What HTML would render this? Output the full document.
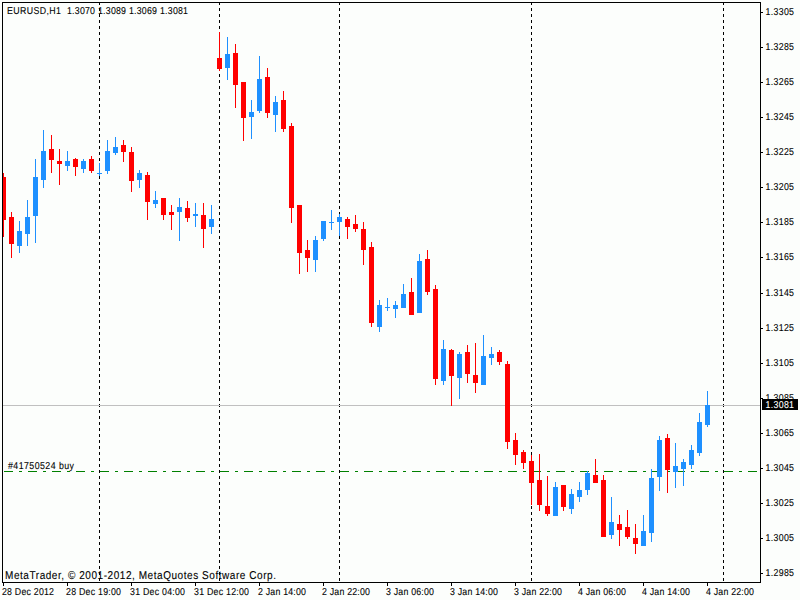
<!DOCTYPE html>
<html><head><meta charset="utf-8"><style>
html,body{margin:0;padding:0;background:#fcfefc;width:800px;height:600px;overflow:hidden}
svg{display:block}
</style></head><body>
<svg width="800" height="600" viewBox="0 0 800 600" shape-rendering="crispEdges" text-rendering="geometricPrecision">
<rect x="99" y="3" width="1" height="2" fill="#000000"/>
<rect x="99" y="8" width="1" height="3" fill="#000000"/>
<rect x="99" y="14" width="1" height="3" fill="#000000"/>
<rect x="99" y="20" width="1" height="3" fill="#000000"/>
<rect x="99" y="26" width="1" height="3" fill="#000000"/>
<rect x="99" y="32" width="1" height="3" fill="#000000"/>
<rect x="99" y="38" width="1" height="3" fill="#000000"/>
<rect x="99" y="44" width="1" height="3" fill="#000000"/>
<rect x="99" y="50" width="1" height="3" fill="#000000"/>
<rect x="99" y="56" width="1" height="3" fill="#000000"/>
<rect x="99" y="62" width="1" height="3" fill="#000000"/>
<rect x="99" y="68" width="1" height="3" fill="#000000"/>
<rect x="99" y="74" width="1" height="3" fill="#000000"/>
<rect x="99" y="80" width="1" height="3" fill="#000000"/>
<rect x="99" y="86" width="1" height="3" fill="#000000"/>
<rect x="99" y="92" width="1" height="3" fill="#000000"/>
<rect x="99" y="98" width="1" height="3" fill="#000000"/>
<rect x="99" y="104" width="1" height="3" fill="#000000"/>
<rect x="99" y="110" width="1" height="3" fill="#000000"/>
<rect x="99" y="116" width="1" height="3" fill="#000000"/>
<rect x="99" y="122" width="1" height="3" fill="#000000"/>
<rect x="99" y="128" width="1" height="3" fill="#000000"/>
<rect x="99" y="134" width="1" height="3" fill="#000000"/>
<rect x="99" y="140" width="1" height="3" fill="#000000"/>
<rect x="99" y="146" width="1" height="3" fill="#000000"/>
<rect x="99" y="152" width="1" height="3" fill="#000000"/>
<rect x="99" y="158" width="1" height="3" fill="#000000"/>
<rect x="99" y="164" width="1" height="3" fill="#000000"/>
<rect x="99" y="170" width="1" height="3" fill="#000000"/>
<rect x="99" y="176" width="1" height="3" fill="#000000"/>
<rect x="99" y="182" width="1" height="3" fill="#000000"/>
<rect x="99" y="188" width="1" height="3" fill="#000000"/>
<rect x="99" y="194" width="1" height="3" fill="#000000"/>
<rect x="99" y="200" width="1" height="3" fill="#000000"/>
<rect x="99" y="206" width="1" height="3" fill="#000000"/>
<rect x="99" y="212" width="1" height="3" fill="#000000"/>
<rect x="99" y="218" width="1" height="3" fill="#000000"/>
<rect x="99" y="224" width="1" height="3" fill="#000000"/>
<rect x="99" y="230" width="1" height="3" fill="#000000"/>
<rect x="99" y="236" width="1" height="3" fill="#000000"/>
<rect x="99" y="242" width="1" height="3" fill="#000000"/>
<rect x="99" y="248" width="1" height="3" fill="#000000"/>
<rect x="99" y="254" width="1" height="3" fill="#000000"/>
<rect x="99" y="260" width="1" height="3" fill="#000000"/>
<rect x="99" y="266" width="1" height="3" fill="#000000"/>
<rect x="99" y="272" width="1" height="3" fill="#000000"/>
<rect x="99" y="278" width="1" height="3" fill="#000000"/>
<rect x="99" y="284" width="1" height="3" fill="#000000"/>
<rect x="99" y="290" width="1" height="3" fill="#000000"/>
<rect x="99" y="296" width="1" height="3" fill="#000000"/>
<rect x="99" y="302" width="1" height="3" fill="#000000"/>
<rect x="99" y="308" width="1" height="3" fill="#000000"/>
<rect x="99" y="314" width="1" height="3" fill="#000000"/>
<rect x="99" y="320" width="1" height="3" fill="#000000"/>
<rect x="99" y="326" width="1" height="3" fill="#000000"/>
<rect x="99" y="332" width="1" height="3" fill="#000000"/>
<rect x="99" y="338" width="1" height="3" fill="#000000"/>
<rect x="99" y="344" width="1" height="3" fill="#000000"/>
<rect x="99" y="350" width="1" height="3" fill="#000000"/>
<rect x="99" y="356" width="1" height="3" fill="#000000"/>
<rect x="99" y="362" width="1" height="3" fill="#000000"/>
<rect x="99" y="368" width="1" height="3" fill="#000000"/>
<rect x="99" y="374" width="1" height="3" fill="#000000"/>
<rect x="99" y="380" width="1" height="3" fill="#000000"/>
<rect x="99" y="386" width="1" height="3" fill="#000000"/>
<rect x="99" y="392" width="1" height="3" fill="#000000"/>
<rect x="99" y="398" width="1" height="3" fill="#000000"/>
<rect x="99" y="404" width="1" height="3" fill="#000000"/>
<rect x="99" y="410" width="1" height="3" fill="#000000"/>
<rect x="99" y="416" width="1" height="3" fill="#000000"/>
<rect x="99" y="422" width="1" height="3" fill="#000000"/>
<rect x="99" y="428" width="1" height="3" fill="#000000"/>
<rect x="99" y="434" width="1" height="3" fill="#000000"/>
<rect x="99" y="440" width="1" height="3" fill="#000000"/>
<rect x="99" y="446" width="1" height="3" fill="#000000"/>
<rect x="99" y="452" width="1" height="3" fill="#000000"/>
<rect x="99" y="458" width="1" height="3" fill="#000000"/>
<rect x="99" y="464" width="1" height="3" fill="#000000"/>
<rect x="99" y="470" width="1" height="3" fill="#000000"/>
<rect x="99" y="476" width="1" height="3" fill="#000000"/>
<rect x="99" y="482" width="1" height="3" fill="#000000"/>
<rect x="99" y="488" width="1" height="3" fill="#000000"/>
<rect x="99" y="494" width="1" height="3" fill="#000000"/>
<rect x="99" y="500" width="1" height="3" fill="#000000"/>
<rect x="99" y="506" width="1" height="3" fill="#000000"/>
<rect x="99" y="512" width="1" height="3" fill="#000000"/>
<rect x="99" y="518" width="1" height="3" fill="#000000"/>
<rect x="99" y="524" width="1" height="3" fill="#000000"/>
<rect x="99" y="530" width="1" height="3" fill="#000000"/>
<rect x="99" y="536" width="1" height="3" fill="#000000"/>
<rect x="99" y="542" width="1" height="3" fill="#000000"/>
<rect x="99" y="548" width="1" height="3" fill="#000000"/>
<rect x="99" y="554" width="1" height="3" fill="#000000"/>
<rect x="99" y="560" width="1" height="3" fill="#000000"/>
<rect x="99" y="566" width="1" height="3" fill="#000000"/>
<rect x="99" y="572" width="1" height="3" fill="#000000"/>
<rect x="99" y="578" width="1" height="3" fill="#000000"/>
<rect x="219" y="3" width="1" height="2" fill="#000000"/>
<rect x="219" y="8" width="1" height="3" fill="#000000"/>
<rect x="219" y="14" width="1" height="3" fill="#000000"/>
<rect x="219" y="20" width="1" height="3" fill="#000000"/>
<rect x="219" y="26" width="1" height="3" fill="#000000"/>
<rect x="219" y="32" width="1" height="3" fill="#000000"/>
<rect x="219" y="38" width="1" height="3" fill="#000000"/>
<rect x="219" y="44" width="1" height="3" fill="#000000"/>
<rect x="219" y="50" width="1" height="3" fill="#000000"/>
<rect x="219" y="56" width="1" height="3" fill="#000000"/>
<rect x="219" y="62" width="1" height="3" fill="#000000"/>
<rect x="219" y="68" width="1" height="3" fill="#000000"/>
<rect x="219" y="74" width="1" height="3" fill="#000000"/>
<rect x="219" y="80" width="1" height="3" fill="#000000"/>
<rect x="219" y="86" width="1" height="3" fill="#000000"/>
<rect x="219" y="92" width="1" height="3" fill="#000000"/>
<rect x="219" y="98" width="1" height="3" fill="#000000"/>
<rect x="219" y="104" width="1" height="3" fill="#000000"/>
<rect x="219" y="110" width="1" height="3" fill="#000000"/>
<rect x="219" y="116" width="1" height="3" fill="#000000"/>
<rect x="219" y="122" width="1" height="3" fill="#000000"/>
<rect x="219" y="128" width="1" height="3" fill="#000000"/>
<rect x="219" y="134" width="1" height="3" fill="#000000"/>
<rect x="219" y="140" width="1" height="3" fill="#000000"/>
<rect x="219" y="146" width="1" height="3" fill="#000000"/>
<rect x="219" y="152" width="1" height="3" fill="#000000"/>
<rect x="219" y="158" width="1" height="3" fill="#000000"/>
<rect x="219" y="164" width="1" height="3" fill="#000000"/>
<rect x="219" y="170" width="1" height="3" fill="#000000"/>
<rect x="219" y="176" width="1" height="3" fill="#000000"/>
<rect x="219" y="182" width="1" height="3" fill="#000000"/>
<rect x="219" y="188" width="1" height="3" fill="#000000"/>
<rect x="219" y="194" width="1" height="3" fill="#000000"/>
<rect x="219" y="200" width="1" height="3" fill="#000000"/>
<rect x="219" y="206" width="1" height="3" fill="#000000"/>
<rect x="219" y="212" width="1" height="3" fill="#000000"/>
<rect x="219" y="218" width="1" height="3" fill="#000000"/>
<rect x="219" y="224" width="1" height="3" fill="#000000"/>
<rect x="219" y="230" width="1" height="3" fill="#000000"/>
<rect x="219" y="236" width="1" height="3" fill="#000000"/>
<rect x="219" y="242" width="1" height="3" fill="#000000"/>
<rect x="219" y="248" width="1" height="3" fill="#000000"/>
<rect x="219" y="254" width="1" height="3" fill="#000000"/>
<rect x="219" y="260" width="1" height="3" fill="#000000"/>
<rect x="219" y="266" width="1" height="3" fill="#000000"/>
<rect x="219" y="272" width="1" height="3" fill="#000000"/>
<rect x="219" y="278" width="1" height="3" fill="#000000"/>
<rect x="219" y="284" width="1" height="3" fill="#000000"/>
<rect x="219" y="290" width="1" height="3" fill="#000000"/>
<rect x="219" y="296" width="1" height="3" fill="#000000"/>
<rect x="219" y="302" width="1" height="3" fill="#000000"/>
<rect x="219" y="308" width="1" height="3" fill="#000000"/>
<rect x="219" y="314" width="1" height="3" fill="#000000"/>
<rect x="219" y="320" width="1" height="3" fill="#000000"/>
<rect x="219" y="326" width="1" height="3" fill="#000000"/>
<rect x="219" y="332" width="1" height="3" fill="#000000"/>
<rect x="219" y="338" width="1" height="3" fill="#000000"/>
<rect x="219" y="344" width="1" height="3" fill="#000000"/>
<rect x="219" y="350" width="1" height="3" fill="#000000"/>
<rect x="219" y="356" width="1" height="3" fill="#000000"/>
<rect x="219" y="362" width="1" height="3" fill="#000000"/>
<rect x="219" y="368" width="1" height="3" fill="#000000"/>
<rect x="219" y="374" width="1" height="3" fill="#000000"/>
<rect x="219" y="380" width="1" height="3" fill="#000000"/>
<rect x="219" y="386" width="1" height="3" fill="#000000"/>
<rect x="219" y="392" width="1" height="3" fill="#000000"/>
<rect x="219" y="398" width="1" height="3" fill="#000000"/>
<rect x="219" y="404" width="1" height="3" fill="#000000"/>
<rect x="219" y="410" width="1" height="3" fill="#000000"/>
<rect x="219" y="416" width="1" height="3" fill="#000000"/>
<rect x="219" y="422" width="1" height="3" fill="#000000"/>
<rect x="219" y="428" width="1" height="3" fill="#000000"/>
<rect x="219" y="434" width="1" height="3" fill="#000000"/>
<rect x="219" y="440" width="1" height="3" fill="#000000"/>
<rect x="219" y="446" width="1" height="3" fill="#000000"/>
<rect x="219" y="452" width="1" height="3" fill="#000000"/>
<rect x="219" y="458" width="1" height="3" fill="#000000"/>
<rect x="219" y="464" width="1" height="3" fill="#000000"/>
<rect x="219" y="470" width="1" height="3" fill="#000000"/>
<rect x="219" y="476" width="1" height="3" fill="#000000"/>
<rect x="219" y="482" width="1" height="3" fill="#000000"/>
<rect x="219" y="488" width="1" height="3" fill="#000000"/>
<rect x="219" y="494" width="1" height="3" fill="#000000"/>
<rect x="219" y="500" width="1" height="3" fill="#000000"/>
<rect x="219" y="506" width="1" height="3" fill="#000000"/>
<rect x="219" y="512" width="1" height="3" fill="#000000"/>
<rect x="219" y="518" width="1" height="3" fill="#000000"/>
<rect x="219" y="524" width="1" height="3" fill="#000000"/>
<rect x="219" y="530" width="1" height="3" fill="#000000"/>
<rect x="219" y="536" width="1" height="3" fill="#000000"/>
<rect x="219" y="542" width="1" height="3" fill="#000000"/>
<rect x="219" y="548" width="1" height="3" fill="#000000"/>
<rect x="219" y="554" width="1" height="3" fill="#000000"/>
<rect x="219" y="560" width="1" height="3" fill="#000000"/>
<rect x="219" y="566" width="1" height="3" fill="#000000"/>
<rect x="219" y="572" width="1" height="3" fill="#000000"/>
<rect x="219" y="578" width="1" height="3" fill="#000000"/>
<rect x="339" y="3" width="1" height="2" fill="#000000"/>
<rect x="339" y="8" width="1" height="3" fill="#000000"/>
<rect x="339" y="14" width="1" height="3" fill="#000000"/>
<rect x="339" y="20" width="1" height="3" fill="#000000"/>
<rect x="339" y="26" width="1" height="3" fill="#000000"/>
<rect x="339" y="32" width="1" height="3" fill="#000000"/>
<rect x="339" y="38" width="1" height="3" fill="#000000"/>
<rect x="339" y="44" width="1" height="3" fill="#000000"/>
<rect x="339" y="50" width="1" height="3" fill="#000000"/>
<rect x="339" y="56" width="1" height="3" fill="#000000"/>
<rect x="339" y="62" width="1" height="3" fill="#000000"/>
<rect x="339" y="68" width="1" height="3" fill="#000000"/>
<rect x="339" y="74" width="1" height="3" fill="#000000"/>
<rect x="339" y="80" width="1" height="3" fill="#000000"/>
<rect x="339" y="86" width="1" height="3" fill="#000000"/>
<rect x="339" y="92" width="1" height="3" fill="#000000"/>
<rect x="339" y="98" width="1" height="3" fill="#000000"/>
<rect x="339" y="104" width="1" height="3" fill="#000000"/>
<rect x="339" y="110" width="1" height="3" fill="#000000"/>
<rect x="339" y="116" width="1" height="3" fill="#000000"/>
<rect x="339" y="122" width="1" height="3" fill="#000000"/>
<rect x="339" y="128" width="1" height="3" fill="#000000"/>
<rect x="339" y="134" width="1" height="3" fill="#000000"/>
<rect x="339" y="140" width="1" height="3" fill="#000000"/>
<rect x="339" y="146" width="1" height="3" fill="#000000"/>
<rect x="339" y="152" width="1" height="3" fill="#000000"/>
<rect x="339" y="158" width="1" height="3" fill="#000000"/>
<rect x="339" y="164" width="1" height="3" fill="#000000"/>
<rect x="339" y="170" width="1" height="3" fill="#000000"/>
<rect x="339" y="176" width="1" height="3" fill="#000000"/>
<rect x="339" y="182" width="1" height="3" fill="#000000"/>
<rect x="339" y="188" width="1" height="3" fill="#000000"/>
<rect x="339" y="194" width="1" height="3" fill="#000000"/>
<rect x="339" y="200" width="1" height="3" fill="#000000"/>
<rect x="339" y="206" width="1" height="3" fill="#000000"/>
<rect x="339" y="212" width="1" height="3" fill="#000000"/>
<rect x="339" y="218" width="1" height="3" fill="#000000"/>
<rect x="339" y="224" width="1" height="3" fill="#000000"/>
<rect x="339" y="230" width="1" height="3" fill="#000000"/>
<rect x="339" y="236" width="1" height="3" fill="#000000"/>
<rect x="339" y="242" width="1" height="3" fill="#000000"/>
<rect x="339" y="248" width="1" height="3" fill="#000000"/>
<rect x="339" y="254" width="1" height="3" fill="#000000"/>
<rect x="339" y="260" width="1" height="3" fill="#000000"/>
<rect x="339" y="266" width="1" height="3" fill="#000000"/>
<rect x="339" y="272" width="1" height="3" fill="#000000"/>
<rect x="339" y="278" width="1" height="3" fill="#000000"/>
<rect x="339" y="284" width="1" height="3" fill="#000000"/>
<rect x="339" y="290" width="1" height="3" fill="#000000"/>
<rect x="339" y="296" width="1" height="3" fill="#000000"/>
<rect x="339" y="302" width="1" height="3" fill="#000000"/>
<rect x="339" y="308" width="1" height="3" fill="#000000"/>
<rect x="339" y="314" width="1" height="3" fill="#000000"/>
<rect x="339" y="320" width="1" height="3" fill="#000000"/>
<rect x="339" y="326" width="1" height="3" fill="#000000"/>
<rect x="339" y="332" width="1" height="3" fill="#000000"/>
<rect x="339" y="338" width="1" height="3" fill="#000000"/>
<rect x="339" y="344" width="1" height="3" fill="#000000"/>
<rect x="339" y="350" width="1" height="3" fill="#000000"/>
<rect x="339" y="356" width="1" height="3" fill="#000000"/>
<rect x="339" y="362" width="1" height="3" fill="#000000"/>
<rect x="339" y="368" width="1" height="3" fill="#000000"/>
<rect x="339" y="374" width="1" height="3" fill="#000000"/>
<rect x="339" y="380" width="1" height="3" fill="#000000"/>
<rect x="339" y="386" width="1" height="3" fill="#000000"/>
<rect x="339" y="392" width="1" height="3" fill="#000000"/>
<rect x="339" y="398" width="1" height="3" fill="#000000"/>
<rect x="339" y="404" width="1" height="3" fill="#000000"/>
<rect x="339" y="410" width="1" height="3" fill="#000000"/>
<rect x="339" y="416" width="1" height="3" fill="#000000"/>
<rect x="339" y="422" width="1" height="3" fill="#000000"/>
<rect x="339" y="428" width="1" height="3" fill="#000000"/>
<rect x="339" y="434" width="1" height="3" fill="#000000"/>
<rect x="339" y="440" width="1" height="3" fill="#000000"/>
<rect x="339" y="446" width="1" height="3" fill="#000000"/>
<rect x="339" y="452" width="1" height="3" fill="#000000"/>
<rect x="339" y="458" width="1" height="3" fill="#000000"/>
<rect x="339" y="464" width="1" height="3" fill="#000000"/>
<rect x="339" y="470" width="1" height="3" fill="#000000"/>
<rect x="339" y="476" width="1" height="3" fill="#000000"/>
<rect x="339" y="482" width="1" height="3" fill="#000000"/>
<rect x="339" y="488" width="1" height="3" fill="#000000"/>
<rect x="339" y="494" width="1" height="3" fill="#000000"/>
<rect x="339" y="500" width="1" height="3" fill="#000000"/>
<rect x="339" y="506" width="1" height="3" fill="#000000"/>
<rect x="339" y="512" width="1" height="3" fill="#000000"/>
<rect x="339" y="518" width="1" height="3" fill="#000000"/>
<rect x="339" y="524" width="1" height="3" fill="#000000"/>
<rect x="339" y="530" width="1" height="3" fill="#000000"/>
<rect x="339" y="536" width="1" height="3" fill="#000000"/>
<rect x="339" y="542" width="1" height="3" fill="#000000"/>
<rect x="339" y="548" width="1" height="3" fill="#000000"/>
<rect x="339" y="554" width="1" height="3" fill="#000000"/>
<rect x="339" y="560" width="1" height="3" fill="#000000"/>
<rect x="339" y="566" width="1" height="3" fill="#000000"/>
<rect x="339" y="572" width="1" height="3" fill="#000000"/>
<rect x="339" y="578" width="1" height="3" fill="#000000"/>
<rect x="531" y="3" width="1" height="2" fill="#000000"/>
<rect x="531" y="8" width="1" height="3" fill="#000000"/>
<rect x="531" y="14" width="1" height="3" fill="#000000"/>
<rect x="531" y="20" width="1" height="3" fill="#000000"/>
<rect x="531" y="26" width="1" height="3" fill="#000000"/>
<rect x="531" y="32" width="1" height="3" fill="#000000"/>
<rect x="531" y="38" width="1" height="3" fill="#000000"/>
<rect x="531" y="44" width="1" height="3" fill="#000000"/>
<rect x="531" y="50" width="1" height="3" fill="#000000"/>
<rect x="531" y="56" width="1" height="3" fill="#000000"/>
<rect x="531" y="62" width="1" height="3" fill="#000000"/>
<rect x="531" y="68" width="1" height="3" fill="#000000"/>
<rect x="531" y="74" width="1" height="3" fill="#000000"/>
<rect x="531" y="80" width="1" height="3" fill="#000000"/>
<rect x="531" y="86" width="1" height="3" fill="#000000"/>
<rect x="531" y="92" width="1" height="3" fill="#000000"/>
<rect x="531" y="98" width="1" height="3" fill="#000000"/>
<rect x="531" y="104" width="1" height="3" fill="#000000"/>
<rect x="531" y="110" width="1" height="3" fill="#000000"/>
<rect x="531" y="116" width="1" height="3" fill="#000000"/>
<rect x="531" y="122" width="1" height="3" fill="#000000"/>
<rect x="531" y="128" width="1" height="3" fill="#000000"/>
<rect x="531" y="134" width="1" height="3" fill="#000000"/>
<rect x="531" y="140" width="1" height="3" fill="#000000"/>
<rect x="531" y="146" width="1" height="3" fill="#000000"/>
<rect x="531" y="152" width="1" height="3" fill="#000000"/>
<rect x="531" y="158" width="1" height="3" fill="#000000"/>
<rect x="531" y="164" width="1" height="3" fill="#000000"/>
<rect x="531" y="170" width="1" height="3" fill="#000000"/>
<rect x="531" y="176" width="1" height="3" fill="#000000"/>
<rect x="531" y="182" width="1" height="3" fill="#000000"/>
<rect x="531" y="188" width="1" height="3" fill="#000000"/>
<rect x="531" y="194" width="1" height="3" fill="#000000"/>
<rect x="531" y="200" width="1" height="3" fill="#000000"/>
<rect x="531" y="206" width="1" height="3" fill="#000000"/>
<rect x="531" y="212" width="1" height="3" fill="#000000"/>
<rect x="531" y="218" width="1" height="3" fill="#000000"/>
<rect x="531" y="224" width="1" height="3" fill="#000000"/>
<rect x="531" y="230" width="1" height="3" fill="#000000"/>
<rect x="531" y="236" width="1" height="3" fill="#000000"/>
<rect x="531" y="242" width="1" height="3" fill="#000000"/>
<rect x="531" y="248" width="1" height="3" fill="#000000"/>
<rect x="531" y="254" width="1" height="3" fill="#000000"/>
<rect x="531" y="260" width="1" height="3" fill="#000000"/>
<rect x="531" y="266" width="1" height="3" fill="#000000"/>
<rect x="531" y="272" width="1" height="3" fill="#000000"/>
<rect x="531" y="278" width="1" height="3" fill="#000000"/>
<rect x="531" y="284" width="1" height="3" fill="#000000"/>
<rect x="531" y="290" width="1" height="3" fill="#000000"/>
<rect x="531" y="296" width="1" height="3" fill="#000000"/>
<rect x="531" y="302" width="1" height="3" fill="#000000"/>
<rect x="531" y="308" width="1" height="3" fill="#000000"/>
<rect x="531" y="314" width="1" height="3" fill="#000000"/>
<rect x="531" y="320" width="1" height="3" fill="#000000"/>
<rect x="531" y="326" width="1" height="3" fill="#000000"/>
<rect x="531" y="332" width="1" height="3" fill="#000000"/>
<rect x="531" y="338" width="1" height="3" fill="#000000"/>
<rect x="531" y="344" width="1" height="3" fill="#000000"/>
<rect x="531" y="350" width="1" height="3" fill="#000000"/>
<rect x="531" y="356" width="1" height="3" fill="#000000"/>
<rect x="531" y="362" width="1" height="3" fill="#000000"/>
<rect x="531" y="368" width="1" height="3" fill="#000000"/>
<rect x="531" y="374" width="1" height="3" fill="#000000"/>
<rect x="531" y="380" width="1" height="3" fill="#000000"/>
<rect x="531" y="386" width="1" height="3" fill="#000000"/>
<rect x="531" y="392" width="1" height="3" fill="#000000"/>
<rect x="531" y="398" width="1" height="3" fill="#000000"/>
<rect x="531" y="404" width="1" height="3" fill="#000000"/>
<rect x="531" y="410" width="1" height="3" fill="#000000"/>
<rect x="531" y="416" width="1" height="3" fill="#000000"/>
<rect x="531" y="422" width="1" height="3" fill="#000000"/>
<rect x="531" y="428" width="1" height="3" fill="#000000"/>
<rect x="531" y="434" width="1" height="3" fill="#000000"/>
<rect x="531" y="440" width="1" height="3" fill="#000000"/>
<rect x="531" y="446" width="1" height="3" fill="#000000"/>
<rect x="531" y="452" width="1" height="3" fill="#000000"/>
<rect x="531" y="458" width="1" height="3" fill="#000000"/>
<rect x="531" y="464" width="1" height="3" fill="#000000"/>
<rect x="531" y="470" width="1" height="3" fill="#000000"/>
<rect x="531" y="476" width="1" height="3" fill="#000000"/>
<rect x="531" y="482" width="1" height="3" fill="#000000"/>
<rect x="531" y="488" width="1" height="3" fill="#000000"/>
<rect x="531" y="494" width="1" height="3" fill="#000000"/>
<rect x="531" y="500" width="1" height="3" fill="#000000"/>
<rect x="531" y="506" width="1" height="3" fill="#000000"/>
<rect x="531" y="512" width="1" height="3" fill="#000000"/>
<rect x="531" y="518" width="1" height="3" fill="#000000"/>
<rect x="531" y="524" width="1" height="3" fill="#000000"/>
<rect x="531" y="530" width="1" height="3" fill="#000000"/>
<rect x="531" y="536" width="1" height="3" fill="#000000"/>
<rect x="531" y="542" width="1" height="3" fill="#000000"/>
<rect x="531" y="548" width="1" height="3" fill="#000000"/>
<rect x="531" y="554" width="1" height="3" fill="#000000"/>
<rect x="531" y="560" width="1" height="3" fill="#000000"/>
<rect x="531" y="566" width="1" height="3" fill="#000000"/>
<rect x="531" y="572" width="1" height="3" fill="#000000"/>
<rect x="531" y="578" width="1" height="3" fill="#000000"/>
<rect x="723" y="3" width="1" height="2" fill="#000000"/>
<rect x="723" y="8" width="1" height="3" fill="#000000"/>
<rect x="723" y="14" width="1" height="3" fill="#000000"/>
<rect x="723" y="20" width="1" height="3" fill="#000000"/>
<rect x="723" y="26" width="1" height="3" fill="#000000"/>
<rect x="723" y="32" width="1" height="3" fill="#000000"/>
<rect x="723" y="38" width="1" height="3" fill="#000000"/>
<rect x="723" y="44" width="1" height="3" fill="#000000"/>
<rect x="723" y="50" width="1" height="3" fill="#000000"/>
<rect x="723" y="56" width="1" height="3" fill="#000000"/>
<rect x="723" y="62" width="1" height="3" fill="#000000"/>
<rect x="723" y="68" width="1" height="3" fill="#000000"/>
<rect x="723" y="74" width="1" height="3" fill="#000000"/>
<rect x="723" y="80" width="1" height="3" fill="#000000"/>
<rect x="723" y="86" width="1" height="3" fill="#000000"/>
<rect x="723" y="92" width="1" height="3" fill="#000000"/>
<rect x="723" y="98" width="1" height="3" fill="#000000"/>
<rect x="723" y="104" width="1" height="3" fill="#000000"/>
<rect x="723" y="110" width="1" height="3" fill="#000000"/>
<rect x="723" y="116" width="1" height="3" fill="#000000"/>
<rect x="723" y="122" width="1" height="3" fill="#000000"/>
<rect x="723" y="128" width="1" height="3" fill="#000000"/>
<rect x="723" y="134" width="1" height="3" fill="#000000"/>
<rect x="723" y="140" width="1" height="3" fill="#000000"/>
<rect x="723" y="146" width="1" height="3" fill="#000000"/>
<rect x="723" y="152" width="1" height="3" fill="#000000"/>
<rect x="723" y="158" width="1" height="3" fill="#000000"/>
<rect x="723" y="164" width="1" height="3" fill="#000000"/>
<rect x="723" y="170" width="1" height="3" fill="#000000"/>
<rect x="723" y="176" width="1" height="3" fill="#000000"/>
<rect x="723" y="182" width="1" height="3" fill="#000000"/>
<rect x="723" y="188" width="1" height="3" fill="#000000"/>
<rect x="723" y="194" width="1" height="3" fill="#000000"/>
<rect x="723" y="200" width="1" height="3" fill="#000000"/>
<rect x="723" y="206" width="1" height="3" fill="#000000"/>
<rect x="723" y="212" width="1" height="3" fill="#000000"/>
<rect x="723" y="218" width="1" height="3" fill="#000000"/>
<rect x="723" y="224" width="1" height="3" fill="#000000"/>
<rect x="723" y="230" width="1" height="3" fill="#000000"/>
<rect x="723" y="236" width="1" height="3" fill="#000000"/>
<rect x="723" y="242" width="1" height="3" fill="#000000"/>
<rect x="723" y="248" width="1" height="3" fill="#000000"/>
<rect x="723" y="254" width="1" height="3" fill="#000000"/>
<rect x="723" y="260" width="1" height="3" fill="#000000"/>
<rect x="723" y="266" width="1" height="3" fill="#000000"/>
<rect x="723" y="272" width="1" height="3" fill="#000000"/>
<rect x="723" y="278" width="1" height="3" fill="#000000"/>
<rect x="723" y="284" width="1" height="3" fill="#000000"/>
<rect x="723" y="290" width="1" height="3" fill="#000000"/>
<rect x="723" y="296" width="1" height="3" fill="#000000"/>
<rect x="723" y="302" width="1" height="3" fill="#000000"/>
<rect x="723" y="308" width="1" height="3" fill="#000000"/>
<rect x="723" y="314" width="1" height="3" fill="#000000"/>
<rect x="723" y="320" width="1" height="3" fill="#000000"/>
<rect x="723" y="326" width="1" height="3" fill="#000000"/>
<rect x="723" y="332" width="1" height="3" fill="#000000"/>
<rect x="723" y="338" width="1" height="3" fill="#000000"/>
<rect x="723" y="344" width="1" height="3" fill="#000000"/>
<rect x="723" y="350" width="1" height="3" fill="#000000"/>
<rect x="723" y="356" width="1" height="3" fill="#000000"/>
<rect x="723" y="362" width="1" height="3" fill="#000000"/>
<rect x="723" y="368" width="1" height="3" fill="#000000"/>
<rect x="723" y="374" width="1" height="3" fill="#000000"/>
<rect x="723" y="380" width="1" height="3" fill="#000000"/>
<rect x="723" y="386" width="1" height="3" fill="#000000"/>
<rect x="723" y="392" width="1" height="3" fill="#000000"/>
<rect x="723" y="398" width="1" height="3" fill="#000000"/>
<rect x="723" y="404" width="1" height="3" fill="#000000"/>
<rect x="723" y="410" width="1" height="3" fill="#000000"/>
<rect x="723" y="416" width="1" height="3" fill="#000000"/>
<rect x="723" y="422" width="1" height="3" fill="#000000"/>
<rect x="723" y="428" width="1" height="3" fill="#000000"/>
<rect x="723" y="434" width="1" height="3" fill="#000000"/>
<rect x="723" y="440" width="1" height="3" fill="#000000"/>
<rect x="723" y="446" width="1" height="3" fill="#000000"/>
<rect x="723" y="452" width="1" height="3" fill="#000000"/>
<rect x="723" y="458" width="1" height="3" fill="#000000"/>
<rect x="723" y="464" width="1" height="3" fill="#000000"/>
<rect x="723" y="470" width="1" height="3" fill="#000000"/>
<rect x="723" y="476" width="1" height="3" fill="#000000"/>
<rect x="723" y="482" width="1" height="3" fill="#000000"/>
<rect x="723" y="488" width="1" height="3" fill="#000000"/>
<rect x="723" y="494" width="1" height="3" fill="#000000"/>
<rect x="723" y="500" width="1" height="3" fill="#000000"/>
<rect x="723" y="506" width="1" height="3" fill="#000000"/>
<rect x="723" y="512" width="1" height="3" fill="#000000"/>
<rect x="723" y="518" width="1" height="3" fill="#000000"/>
<rect x="723" y="524" width="1" height="3" fill="#000000"/>
<rect x="723" y="530" width="1" height="3" fill="#000000"/>
<rect x="723" y="536" width="1" height="3" fill="#000000"/>
<rect x="723" y="542" width="1" height="3" fill="#000000"/>
<rect x="723" y="548" width="1" height="3" fill="#000000"/>
<rect x="723" y="554" width="1" height="3" fill="#000000"/>
<rect x="723" y="560" width="1" height="3" fill="#000000"/>
<rect x="723" y="566" width="1" height="3" fill="#000000"/>
<rect x="723" y="572" width="1" height="3" fill="#000000"/>
<rect x="723" y="578" width="1" height="3" fill="#000000"/>
<rect x="3" y="405" width="757" height="1" fill="#c0c0c0"/>
<rect x="4" y="471" width="9" height="1" fill="#008000"/>
<rect x="19" y="471" width="3" height="1" fill="#008000"/>
<rect x="28" y="471" width="9" height="1" fill="#008000"/>
<rect x="43" y="471" width="3" height="1" fill="#008000"/>
<rect x="52" y="471" width="9" height="1" fill="#008000"/>
<rect x="67" y="471" width="3" height="1" fill="#008000"/>
<rect x="76" y="471" width="9" height="1" fill="#008000"/>
<rect x="91" y="471" width="3" height="1" fill="#008000"/>
<rect x="100" y="471" width="9" height="1" fill="#008000"/>
<rect x="115" y="471" width="3" height="1" fill="#008000"/>
<rect x="124" y="471" width="9" height="1" fill="#008000"/>
<rect x="139" y="471" width="3" height="1" fill="#008000"/>
<rect x="148" y="471" width="9" height="1" fill="#008000"/>
<rect x="163" y="471" width="3" height="1" fill="#008000"/>
<rect x="172" y="471" width="9" height="1" fill="#008000"/>
<rect x="187" y="471" width="3" height="1" fill="#008000"/>
<rect x="196" y="471" width="9" height="1" fill="#008000"/>
<rect x="211" y="471" width="3" height="1" fill="#008000"/>
<rect x="220" y="471" width="9" height="1" fill="#008000"/>
<rect x="235" y="471" width="3" height="1" fill="#008000"/>
<rect x="244" y="471" width="9" height="1" fill="#008000"/>
<rect x="259" y="471" width="3" height="1" fill="#008000"/>
<rect x="268" y="471" width="9" height="1" fill="#008000"/>
<rect x="283" y="471" width="3" height="1" fill="#008000"/>
<rect x="292" y="471" width="9" height="1" fill="#008000"/>
<rect x="307" y="471" width="3" height="1" fill="#008000"/>
<rect x="316" y="471" width="9" height="1" fill="#008000"/>
<rect x="331" y="471" width="3" height="1" fill="#008000"/>
<rect x="340" y="471" width="9" height="1" fill="#008000"/>
<rect x="355" y="471" width="3" height="1" fill="#008000"/>
<rect x="364" y="471" width="9" height="1" fill="#008000"/>
<rect x="379" y="471" width="3" height="1" fill="#008000"/>
<rect x="388" y="471" width="9" height="1" fill="#008000"/>
<rect x="403" y="471" width="3" height="1" fill="#008000"/>
<rect x="412" y="471" width="9" height="1" fill="#008000"/>
<rect x="427" y="471" width="3" height="1" fill="#008000"/>
<rect x="436" y="471" width="9" height="1" fill="#008000"/>
<rect x="451" y="471" width="3" height="1" fill="#008000"/>
<rect x="460" y="471" width="9" height="1" fill="#008000"/>
<rect x="475" y="471" width="3" height="1" fill="#008000"/>
<rect x="484" y="471" width="9" height="1" fill="#008000"/>
<rect x="499" y="471" width="3" height="1" fill="#008000"/>
<rect x="508" y="471" width="9" height="1" fill="#008000"/>
<rect x="523" y="471" width="3" height="1" fill="#008000"/>
<rect x="532" y="471" width="9" height="1" fill="#008000"/>
<rect x="547" y="471" width="3" height="1" fill="#008000"/>
<rect x="556" y="471" width="9" height="1" fill="#008000"/>
<rect x="571" y="471" width="3" height="1" fill="#008000"/>
<rect x="580" y="471" width="9" height="1" fill="#008000"/>
<rect x="595" y="471" width="3" height="1" fill="#008000"/>
<rect x="604" y="471" width="9" height="1" fill="#008000"/>
<rect x="619" y="471" width="3" height="1" fill="#008000"/>
<rect x="628" y="471" width="9" height="1" fill="#008000"/>
<rect x="643" y="471" width="3" height="1" fill="#008000"/>
<rect x="652" y="471" width="9" height="1" fill="#008000"/>
<rect x="667" y="471" width="3" height="1" fill="#008000"/>
<rect x="676" y="471" width="9" height="1" fill="#008000"/>
<rect x="691" y="471" width="3" height="1" fill="#008000"/>
<rect x="700" y="471" width="9" height="1" fill="#008000"/>
<rect x="715" y="471" width="3" height="1" fill="#008000"/>
<rect x="724" y="471" width="9" height="1" fill="#008000"/>
<rect x="739" y="471" width="3" height="1" fill="#008000"/>
<rect x="748" y="471" width="9" height="1" fill="#008000"/>
<rect x="3" y="173" width="1" height="64" fill="#ff0000"/>
<rect x="1" y="177" width="5" height="43" fill="#ff0000"/>
<rect x="11" y="212" width="1" height="46" fill="#ff0000"/>
<rect x="9" y="217" width="5" height="27" fill="#ff0000"/>
<rect x="19" y="221" width="1" height="32" fill="#1e90ff"/>
<rect x="17" y="231" width="5" height="15" fill="#1e90ff"/>
<rect x="27" y="200" width="1" height="46" fill="#1e90ff"/>
<rect x="25" y="217" width="5" height="17" fill="#1e90ff"/>
<rect x="35" y="159" width="1" height="84" fill="#1e90ff"/>
<rect x="33" y="177" width="5" height="39" fill="#1e90ff"/>
<rect x="43" y="130" width="1" height="58" fill="#1e90ff"/>
<rect x="41" y="151" width="5" height="29" fill="#1e90ff"/>
<rect x="51" y="135" width="1" height="38" fill="#ff0000"/>
<rect x="49" y="149" width="5" height="11" fill="#ff0000"/>
<rect x="59" y="149" width="1" height="36" fill="#ff0000"/>
<rect x="57" y="161" width="5" height="3" fill="#ff0000"/>
<rect x="67" y="151" width="1" height="20" fill="#1e90ff"/>
<rect x="65" y="161" width="5" height="5" fill="#1e90ff"/>
<rect x="75" y="158" width="1" height="18" fill="#ff0000"/>
<rect x="73" y="159" width="5" height="8" fill="#ff0000"/>
<rect x="83" y="159" width="1" height="14" fill="#1e90ff"/>
<rect x="81" y="161" width="5" height="8" fill="#1e90ff"/>
<rect x="91" y="156" width="1" height="17" fill="#ff0000"/>
<rect x="89" y="159" width="5" height="12" fill="#ff0000"/>
<rect x="99" y="163" width="1" height="13" fill="#1e90ff"/>
<rect x="97" y="173" width="5" height="1" fill="#1e90ff"/>
<rect x="107" y="140" width="1" height="34" fill="#1e90ff"/>
<rect x="105" y="151" width="5" height="20" fill="#1e90ff"/>
<rect x="115" y="137" width="1" height="18" fill="#1e90ff"/>
<rect x="113" y="147" width="5" height="6" fill="#1e90ff"/>
<rect x="123" y="140" width="1" height="22" fill="#ff0000"/>
<rect x="121" y="145" width="5" height="7" fill="#ff0000"/>
<rect x="131" y="147" width="1" height="45" fill="#ff0000"/>
<rect x="129" y="152" width="5" height="29" fill="#ff0000"/>
<rect x="139" y="170" width="1" height="18" fill="#1e90ff"/>
<rect x="137" y="173" width="5" height="7" fill="#1e90ff"/>
<rect x="147" y="172" width="1" height="48" fill="#ff0000"/>
<rect x="145" y="175" width="5" height="27" fill="#ff0000"/>
<rect x="155" y="191" width="1" height="17" fill="#1e90ff"/>
<rect x="153" y="200" width="5" height="4" fill="#1e90ff"/>
<rect x="163" y="198" width="1" height="22" fill="#ff0000"/>
<rect x="161" y="198" width="5" height="17" fill="#ff0000"/>
<rect x="171" y="205" width="1" height="25" fill="#ff0000"/>
<rect x="169" y="212" width="5" height="3" fill="#ff0000"/>
<rect x="179" y="198" width="1" height="43" fill="#1e90ff"/>
<rect x="177" y="207" width="5" height="5" fill="#1e90ff"/>
<rect x="187" y="201" width="1" height="21" fill="#ff0000"/>
<rect x="185" y="208" width="5" height="10" fill="#ff0000"/>
<rect x="195" y="203" width="1" height="24" fill="#1e90ff"/>
<rect x="193" y="214" width="5" height="2" fill="#1e90ff"/>
<rect x="203" y="203" width="1" height="45" fill="#ff0000"/>
<rect x="201" y="215" width="5" height="14" fill="#ff0000"/>
<rect x="211" y="205" width="1" height="29" fill="#1e90ff"/>
<rect x="209" y="219" width="5" height="8" fill="#1e90ff"/>
<rect x="219" y="32" width="1" height="39" fill="#ff0000"/>
<rect x="217" y="58" width="5" height="11" fill="#ff0000"/>
<rect x="227" y="37" width="1" height="43" fill="#1e90ff"/>
<rect x="225" y="54" width="5" height="14" fill="#1e90ff"/>
<rect x="235" y="44" width="1" height="64" fill="#ff0000"/>
<rect x="233" y="53" width="5" height="32" fill="#ff0000"/>
<rect x="243" y="82" width="1" height="59" fill="#ff0000"/>
<rect x="241" y="82" width="5" height="36" fill="#ff0000"/>
<rect x="251" y="100" width="1" height="39" fill="#1e90ff"/>
<rect x="249" y="112" width="5" height="5" fill="#1e90ff"/>
<rect x="259" y="56" width="1" height="57" fill="#1e90ff"/>
<rect x="257" y="79" width="5" height="32" fill="#1e90ff"/>
<rect x="267" y="68" width="1" height="50" fill="#ff0000"/>
<rect x="265" y="77" width="5" height="36" fill="#ff0000"/>
<rect x="275" y="96" width="1" height="36" fill="#1e90ff"/>
<rect x="273" y="102" width="5" height="13" fill="#1e90ff"/>
<rect x="283" y="91" width="1" height="41" fill="#ff0000"/>
<rect x="281" y="100" width="5" height="29" fill="#ff0000"/>
<rect x="291" y="123" width="1" height="100" fill="#ff0000"/>
<rect x="289" y="126" width="5" height="82" fill="#ff0000"/>
<rect x="299" y="205" width="1" height="69" fill="#ff0000"/>
<rect x="297" y="205" width="5" height="48" fill="#ff0000"/>
<rect x="307" y="240" width="1" height="32" fill="#ff0000"/>
<rect x="305" y="250" width="5" height="8" fill="#ff0000"/>
<rect x="315" y="236" width="1" height="36" fill="#1e90ff"/>
<rect x="313" y="240" width="5" height="20" fill="#1e90ff"/>
<rect x="323" y="221" width="1" height="20" fill="#1e90ff"/>
<rect x="321" y="221" width="5" height="18" fill="#1e90ff"/>
<rect x="331" y="210" width="1" height="20" fill="#1e90ff"/>
<rect x="329" y="222" width="5" height="1" fill="#1e90ff"/>
<rect x="339" y="214" width="1" height="22" fill="#1e90ff"/>
<rect x="337" y="217" width="5" height="5" fill="#1e90ff"/>
<rect x="347" y="217" width="1" height="22" fill="#ff0000"/>
<rect x="345" y="219" width="5" height="8" fill="#ff0000"/>
<rect x="355" y="215" width="1" height="17" fill="#ff0000"/>
<rect x="353" y="224" width="5" height="5" fill="#ff0000"/>
<rect x="363" y="222" width="1" height="43" fill="#ff0000"/>
<rect x="361" y="229" width="5" height="21" fill="#ff0000"/>
<rect x="371" y="242" width="1" height="85" fill="#ff0000"/>
<rect x="369" y="247" width="5" height="76" fill="#ff0000"/>
<rect x="379" y="300" width="1" height="32" fill="#1e90ff"/>
<rect x="377" y="305" width="5" height="22" fill="#1e90ff"/>
<rect x="387" y="298" width="1" height="13" fill="#1e90ff"/>
<rect x="385" y="307" width="5" height="1" fill="#1e90ff"/>
<rect x="395" y="301" width="1" height="17" fill="#1e90ff"/>
<rect x="393" y="305" width="5" height="4" fill="#1e90ff"/>
<rect x="403" y="284" width="1" height="24" fill="#1e90ff"/>
<rect x="401" y="294" width="5" height="14" fill="#1e90ff"/>
<rect x="411" y="278" width="1" height="37" fill="#ff0000"/>
<rect x="409" y="292" width="5" height="23" fill="#ff0000"/>
<rect x="419" y="254" width="1" height="59" fill="#1e90ff"/>
<rect x="417" y="261" width="5" height="52" fill="#1e90ff"/>
<rect x="427" y="250" width="1" height="45" fill="#ff0000"/>
<rect x="425" y="259" width="5" height="33" fill="#ff0000"/>
<rect x="435" y="285" width="1" height="100" fill="#ff0000"/>
<rect x="433" y="289" width="5" height="90" fill="#ff0000"/>
<rect x="443" y="340" width="1" height="45" fill="#1e90ff"/>
<rect x="441" y="349" width="5" height="32" fill="#1e90ff"/>
<rect x="451" y="349" width="1" height="57" fill="#ff0000"/>
<rect x="449" y="350" width="5" height="26" fill="#ff0000"/>
<rect x="459" y="352" width="1" height="47" fill="#1e90ff"/>
<rect x="457" y="354" width="5" height="24" fill="#1e90ff"/>
<rect x="467" y="345" width="1" height="38" fill="#ff0000"/>
<rect x="465" y="352" width="5" height="22" fill="#ff0000"/>
<rect x="475" y="343" width="1" height="50" fill="#ff0000"/>
<rect x="473" y="375" width="5" height="8" fill="#ff0000"/>
<rect x="483" y="335" width="1" height="50" fill="#1e90ff"/>
<rect x="481" y="356" width="5" height="29" fill="#1e90ff"/>
<rect x="491" y="347" width="1" height="18" fill="#1e90ff"/>
<rect x="489" y="354" width="5" height="4" fill="#1e90ff"/>
<rect x="499" y="350" width="1" height="15" fill="#ff0000"/>
<rect x="497" y="352" width="5" height="10" fill="#ff0000"/>
<rect x="507" y="361" width="1" height="88" fill="#ff0000"/>
<rect x="505" y="364" width="5" height="78" fill="#ff0000"/>
<rect x="515" y="433" width="1" height="32" fill="#ff0000"/>
<rect x="513" y="440" width="5" height="15" fill="#ff0000"/>
<rect x="523" y="450" width="1" height="19" fill="#ff0000"/>
<rect x="521" y="452" width="5" height="11" fill="#ff0000"/>
<rect x="531" y="455" width="1" height="50" fill="#ff0000"/>
<rect x="529" y="461" width="5" height="22" fill="#ff0000"/>
<rect x="539" y="454" width="1" height="57" fill="#ff0000"/>
<rect x="537" y="480" width="5" height="25" fill="#ff0000"/>
<rect x="547" y="476" width="1" height="40" fill="#ff0000"/>
<rect x="545" y="506" width="5" height="8" fill="#ff0000"/>
<rect x="555" y="482" width="1" height="34" fill="#1e90ff"/>
<rect x="553" y="487" width="5" height="29" fill="#1e90ff"/>
<rect x="563" y="485" width="1" height="26" fill="#ff0000"/>
<rect x="561" y="485" width="5" height="22" fill="#ff0000"/>
<rect x="571" y="489" width="1" height="25" fill="#1e90ff"/>
<rect x="569" y="494" width="5" height="15" fill="#1e90ff"/>
<rect x="579" y="482" width="1" height="20" fill="#1e90ff"/>
<rect x="577" y="490" width="5" height="7" fill="#1e90ff"/>
<rect x="587" y="471" width="1" height="24" fill="#1e90ff"/>
<rect x="585" y="473" width="5" height="17" fill="#1e90ff"/>
<rect x="595" y="459" width="1" height="24" fill="#ff0000"/>
<rect x="593" y="475" width="5" height="8" fill="#ff0000"/>
<rect x="603" y="475" width="1" height="62" fill="#ff0000"/>
<rect x="601" y="480" width="5" height="57" fill="#ff0000"/>
<rect x="611" y="497" width="1" height="42" fill="#1e90ff"/>
<rect x="609" y="522" width="5" height="13" fill="#1e90ff"/>
<rect x="619" y="515" width="1" height="31" fill="#ff0000"/>
<rect x="617" y="524" width="5" height="6" fill="#ff0000"/>
<rect x="627" y="510" width="1" height="29" fill="#ff0000"/>
<rect x="625" y="527" width="5" height="10" fill="#ff0000"/>
<rect x="635" y="524" width="1" height="30" fill="#ff0000"/>
<rect x="633" y="538" width="5" height="6" fill="#ff0000"/>
<rect x="643" y="515" width="1" height="31" fill="#1e90ff"/>
<rect x="641" y="531" width="5" height="15" fill="#1e90ff"/>
<rect x="651" y="469" width="1" height="73" fill="#1e90ff"/>
<rect x="649" y="478" width="5" height="55" fill="#1e90ff"/>
<rect x="659" y="436" width="1" height="55" fill="#1e90ff"/>
<rect x="657" y="440" width="5" height="37" fill="#1e90ff"/>
<rect x="667" y="434" width="1" height="59" fill="#ff0000"/>
<rect x="665" y="438" width="5" height="32" fill="#ff0000"/>
<rect x="675" y="443" width="1" height="45" fill="#1e90ff"/>
<rect x="673" y="466" width="5" height="6" fill="#1e90ff"/>
<rect x="683" y="459" width="1" height="27" fill="#1e90ff"/>
<rect x="681" y="462" width="5" height="7" fill="#1e90ff"/>
<rect x="691" y="445" width="1" height="24" fill="#1e90ff"/>
<rect x="689" y="450" width="5" height="15" fill="#1e90ff"/>
<rect x="699" y="413" width="1" height="43" fill="#1e90ff"/>
<rect x="697" y="422" width="5" height="31" fill="#1e90ff"/>
<rect x="707" y="391" width="1" height="36" fill="#1e90ff"/>
<rect x="705" y="405" width="5" height="20" fill="#1e90ff"/>
<rect x="0" y="0" width="2" height="600" fill="#fcfefc"/>
<rect x="2" y="2" width="759" height="1" fill="#000000"/>
<rect x="2" y="582" width="759" height="1" fill="#000000"/>
<rect x="2" y="2" width="1" height="581" fill="#000000"/>
<rect x="760" y="2" width="1" height="581" fill="#000000"/>
<rect x="761" y="12" width="2" height="1" fill="#000000"/>
<text transform="scale(0.88,1)" x="870.00" y="15" font-size="10.0" textLength="32.27" lengthAdjust="spacing" font-family="Liberation Sans, sans-serif" fill="#000000" stroke="#000000" stroke-width="0.1">1.3305</text>
<rect x="761" y="47" width="2" height="1" fill="#000000"/>
<text transform="scale(0.88,1)" x="870.00" y="50" font-size="10.0" textLength="32.27" lengthAdjust="spacing" font-family="Liberation Sans, sans-serif" fill="#000000" stroke="#000000" stroke-width="0.1">1.3285</text>
<rect x="761" y="82" width="2" height="1" fill="#000000"/>
<text transform="scale(0.88,1)" x="870.00" y="85" font-size="10.0" textLength="32.27" lengthAdjust="spacing" font-family="Liberation Sans, sans-serif" fill="#000000" stroke="#000000" stroke-width="0.1">1.3265</text>
<rect x="761" y="117" width="2" height="1" fill="#000000"/>
<text transform="scale(0.88,1)" x="870.00" y="120" font-size="10.0" textLength="32.27" lengthAdjust="spacing" font-family="Liberation Sans, sans-serif" fill="#000000" stroke="#000000" stroke-width="0.1">1.3245</text>
<rect x="761" y="152" width="2" height="1" fill="#000000"/>
<text transform="scale(0.88,1)" x="870.00" y="155" font-size="10.0" textLength="32.27" lengthAdjust="spacing" font-family="Liberation Sans, sans-serif" fill="#000000" stroke="#000000" stroke-width="0.1">1.3225</text>
<rect x="761" y="187" width="2" height="1" fill="#000000"/>
<text transform="scale(0.88,1)" x="870.00" y="190" font-size="10.0" textLength="32.27" lengthAdjust="spacing" font-family="Liberation Sans, sans-serif" fill="#000000" stroke="#000000" stroke-width="0.1">1.3205</text>
<rect x="761" y="222" width="2" height="1" fill="#000000"/>
<text transform="scale(0.88,1)" x="870.00" y="225" font-size="10.0" textLength="32.27" lengthAdjust="spacing" font-family="Liberation Sans, sans-serif" fill="#000000" stroke="#000000" stroke-width="0.1">1.3185</text>
<rect x="761" y="257" width="2" height="1" fill="#000000"/>
<text transform="scale(0.88,1)" x="870.00" y="260" font-size="10.0" textLength="32.27" lengthAdjust="spacing" font-family="Liberation Sans, sans-serif" fill="#000000" stroke="#000000" stroke-width="0.1">1.3165</text>
<rect x="761" y="293" width="2" height="1" fill="#000000"/>
<text transform="scale(0.88,1)" x="870.00" y="296" font-size="10.0" textLength="32.27" lengthAdjust="spacing" font-family="Liberation Sans, sans-serif" fill="#000000" stroke="#000000" stroke-width="0.1">1.3145</text>
<rect x="761" y="328" width="2" height="1" fill="#000000"/>
<text transform="scale(0.88,1)" x="870.00" y="331" font-size="10.0" textLength="32.27" lengthAdjust="spacing" font-family="Liberation Sans, sans-serif" fill="#000000" stroke="#000000" stroke-width="0.1">1.3125</text>
<rect x="761" y="363" width="2" height="1" fill="#000000"/>
<text transform="scale(0.88,1)" x="870.00" y="366" font-size="10.0" textLength="32.27" lengthAdjust="spacing" font-family="Liberation Sans, sans-serif" fill="#000000" stroke="#000000" stroke-width="0.1">1.3105</text>
<rect x="761" y="398" width="2" height="1" fill="#000000"/>
<text transform="scale(0.88,1)" x="870.00" y="401" font-size="10.0" textLength="32.27" lengthAdjust="spacing" font-family="Liberation Sans, sans-serif" fill="#000000" stroke="#000000" stroke-width="0.1">1.3085</text>
<rect x="761" y="433" width="2" height="1" fill="#000000"/>
<text transform="scale(0.88,1)" x="870.00" y="436" font-size="10.0" textLength="32.27" lengthAdjust="spacing" font-family="Liberation Sans, sans-serif" fill="#000000" stroke="#000000" stroke-width="0.1">1.3065</text>
<rect x="761" y="468" width="2" height="1" fill="#000000"/>
<text transform="scale(0.88,1)" x="870.00" y="471" font-size="10.0" textLength="32.27" lengthAdjust="spacing" font-family="Liberation Sans, sans-serif" fill="#000000" stroke="#000000" stroke-width="0.1">1.3045</text>
<rect x="761" y="503" width="2" height="1" fill="#000000"/>
<text transform="scale(0.88,1)" x="870.00" y="506" font-size="10.0" textLength="32.27" lengthAdjust="spacing" font-family="Liberation Sans, sans-serif" fill="#000000" stroke="#000000" stroke-width="0.1">1.3025</text>
<rect x="761" y="538" width="2" height="1" fill="#000000"/>
<text transform="scale(0.88,1)" x="870.00" y="541" font-size="10.0" textLength="32.27" lengthAdjust="spacing" font-family="Liberation Sans, sans-serif" fill="#000000" stroke="#000000" stroke-width="0.1">1.3005</text>
<rect x="761" y="573" width="2" height="1" fill="#000000"/>
<text transform="scale(0.88,1)" x="870.00" y="576" font-size="10.0" textLength="32.27" lengthAdjust="spacing" font-family="Liberation Sans, sans-serif" fill="#000000" stroke="#000000" stroke-width="0.1">1.2985</text>
<rect x="762" y="399" width="36" height="11" fill="#000000"/>
<text transform="scale(0.88,1)" x="870.00" y="408" font-size="10.0" textLength="32.27" lengthAdjust="spacing" font-family="Liberation Sans, sans-serif" fill="#ffffff" stroke="#ffffff" stroke-width="0.1">1.3081</text>
<rect x="3" y="583" width="1" height="3" fill="#000000"/>
<text transform="scale(0.88,1)" x="2.27" y="595" font-size="10.0" textLength="59.09" lengthAdjust="spacing" font-family="Liberation Sans, sans-serif" fill="#000000" stroke="#000000" stroke-width="0.1">28 Dec 2012</text>
<rect x="67" y="583" width="1" height="3" fill="#000000"/>
<text transform="scale(0.88,1)" x="75.00" y="595" font-size="10.0" textLength="62.50" lengthAdjust="spacing" font-family="Liberation Sans, sans-serif" fill="#000000" stroke="#000000" stroke-width="0.1">28 Dec 19:00</text>
<rect x="131" y="583" width="1" height="3" fill="#000000"/>
<text transform="scale(0.88,1)" x="147.73" y="595" font-size="10.0" textLength="62.50" lengthAdjust="spacing" font-family="Liberation Sans, sans-serif" fill="#000000" stroke="#000000" stroke-width="0.1">31 Dec 04:00</text>
<rect x="195" y="583" width="1" height="3" fill="#000000"/>
<text transform="scale(0.88,1)" x="220.45" y="595" font-size="10.0" textLength="62.50" lengthAdjust="spacing" font-family="Liberation Sans, sans-serif" fill="#000000" stroke="#000000" stroke-width="0.1">31 Dec 12:00</text>
<rect x="259" y="583" width="1" height="3" fill="#000000"/>
<text transform="scale(0.88,1)" x="293.18" y="595" font-size="10.0" textLength="54.55" lengthAdjust="spacing" font-family="Liberation Sans, sans-serif" fill="#000000" stroke="#000000" stroke-width="0.1">2 Jan 14:00</text>
<rect x="323" y="583" width="1" height="3" fill="#000000"/>
<text transform="scale(0.88,1)" x="365.91" y="595" font-size="10.0" textLength="54.55" lengthAdjust="spacing" font-family="Liberation Sans, sans-serif" fill="#000000" stroke="#000000" stroke-width="0.1">2 Jan 22:00</text>
<rect x="387" y="583" width="1" height="3" fill="#000000"/>
<text transform="scale(0.88,1)" x="438.64" y="595" font-size="10.0" textLength="54.55" lengthAdjust="spacing" font-family="Liberation Sans, sans-serif" fill="#000000" stroke="#000000" stroke-width="0.1">3 Jan 06:00</text>
<rect x="451" y="583" width="1" height="3" fill="#000000"/>
<text transform="scale(0.88,1)" x="511.36" y="595" font-size="10.0" textLength="54.55" lengthAdjust="spacing" font-family="Liberation Sans, sans-serif" fill="#000000" stroke="#000000" stroke-width="0.1">3 Jan 14:00</text>
<rect x="515" y="583" width="1" height="3" fill="#000000"/>
<text transform="scale(0.88,1)" x="584.09" y="595" font-size="10.0" textLength="54.55" lengthAdjust="spacing" font-family="Liberation Sans, sans-serif" fill="#000000" stroke="#000000" stroke-width="0.1">3 Jan 22:00</text>
<rect x="579" y="583" width="1" height="3" fill="#000000"/>
<text transform="scale(0.88,1)" x="656.82" y="595" font-size="10.0" textLength="54.55" lengthAdjust="spacing" font-family="Liberation Sans, sans-serif" fill="#000000" stroke="#000000" stroke-width="0.1">4 Jan 06:00</text>
<rect x="643" y="583" width="1" height="3" fill="#000000"/>
<text transform="scale(0.88,1)" x="729.55" y="595" font-size="10.0" textLength="54.55" lengthAdjust="spacing" font-family="Liberation Sans, sans-serif" fill="#000000" stroke="#000000" stroke-width="0.1">4 Jan 14:00</text>
<rect x="707" y="583" width="1" height="3" fill="#000000"/>
<text transform="scale(0.88,1)" x="802.27" y="595" font-size="10.0" textLength="54.55" lengthAdjust="spacing" font-family="Liberation Sans, sans-serif" fill="#000000" stroke="#000000" stroke-width="0.1">4 Jan 22:00</text>
<text transform="scale(0.88,1)" x="7.95" y="14" font-size="10.0" textLength="61.36" lengthAdjust="spacing" font-family="Liberation Sans, sans-serif" fill="#000000" stroke="#000000" stroke-width="0.1">EURUSD,H1</text>
<text transform="scale(0.88,1)" x="76.14" y="14" font-size="10.0" textLength="31.82" lengthAdjust="spacing" font-family="Liberation Sans, sans-serif" fill="#000000" stroke="#000000" stroke-width="0.1">1.3070</text>
<text transform="scale(0.88,1)" x="111.36" y="14" font-size="10.0" textLength="31.82" lengthAdjust="spacing" font-family="Liberation Sans, sans-serif" fill="#000000" stroke="#000000" stroke-width="0.1">1.3089</text>
<text transform="scale(0.88,1)" x="146.59" y="14" font-size="10.0" textLength="31.82" lengthAdjust="spacing" font-family="Liberation Sans, sans-serif" fill="#000000" stroke="#000000" stroke-width="0.1">1.3069</text>
<text transform="scale(0.88,1)" x="181.82" y="14" font-size="10.0" textLength="31.82" lengthAdjust="spacing" font-family="Liberation Sans, sans-serif" fill="#000000" stroke="#000000" stroke-width="0.1">1.3081</text>
<text transform="scale(0.88,1)" x="9.09" y="469" font-size="10.0" textLength="75.00" lengthAdjust="spacing" font-family="Liberation Sans, sans-serif" fill="#000000" stroke="#000000" stroke-width="0.1">#41750524 buy</text>
<text transform="scale(0.88,1)" x="5.68" y="579" font-size="11.4" textLength="307.95" lengthAdjust="spacing" font-family="Liberation Sans, sans-serif" fill="#000000" stroke="#000000" stroke-width="0.1">MetaTrader, © 2001-2012, MetaQuotes Software Corp.</text>
</svg>
</body></html>
